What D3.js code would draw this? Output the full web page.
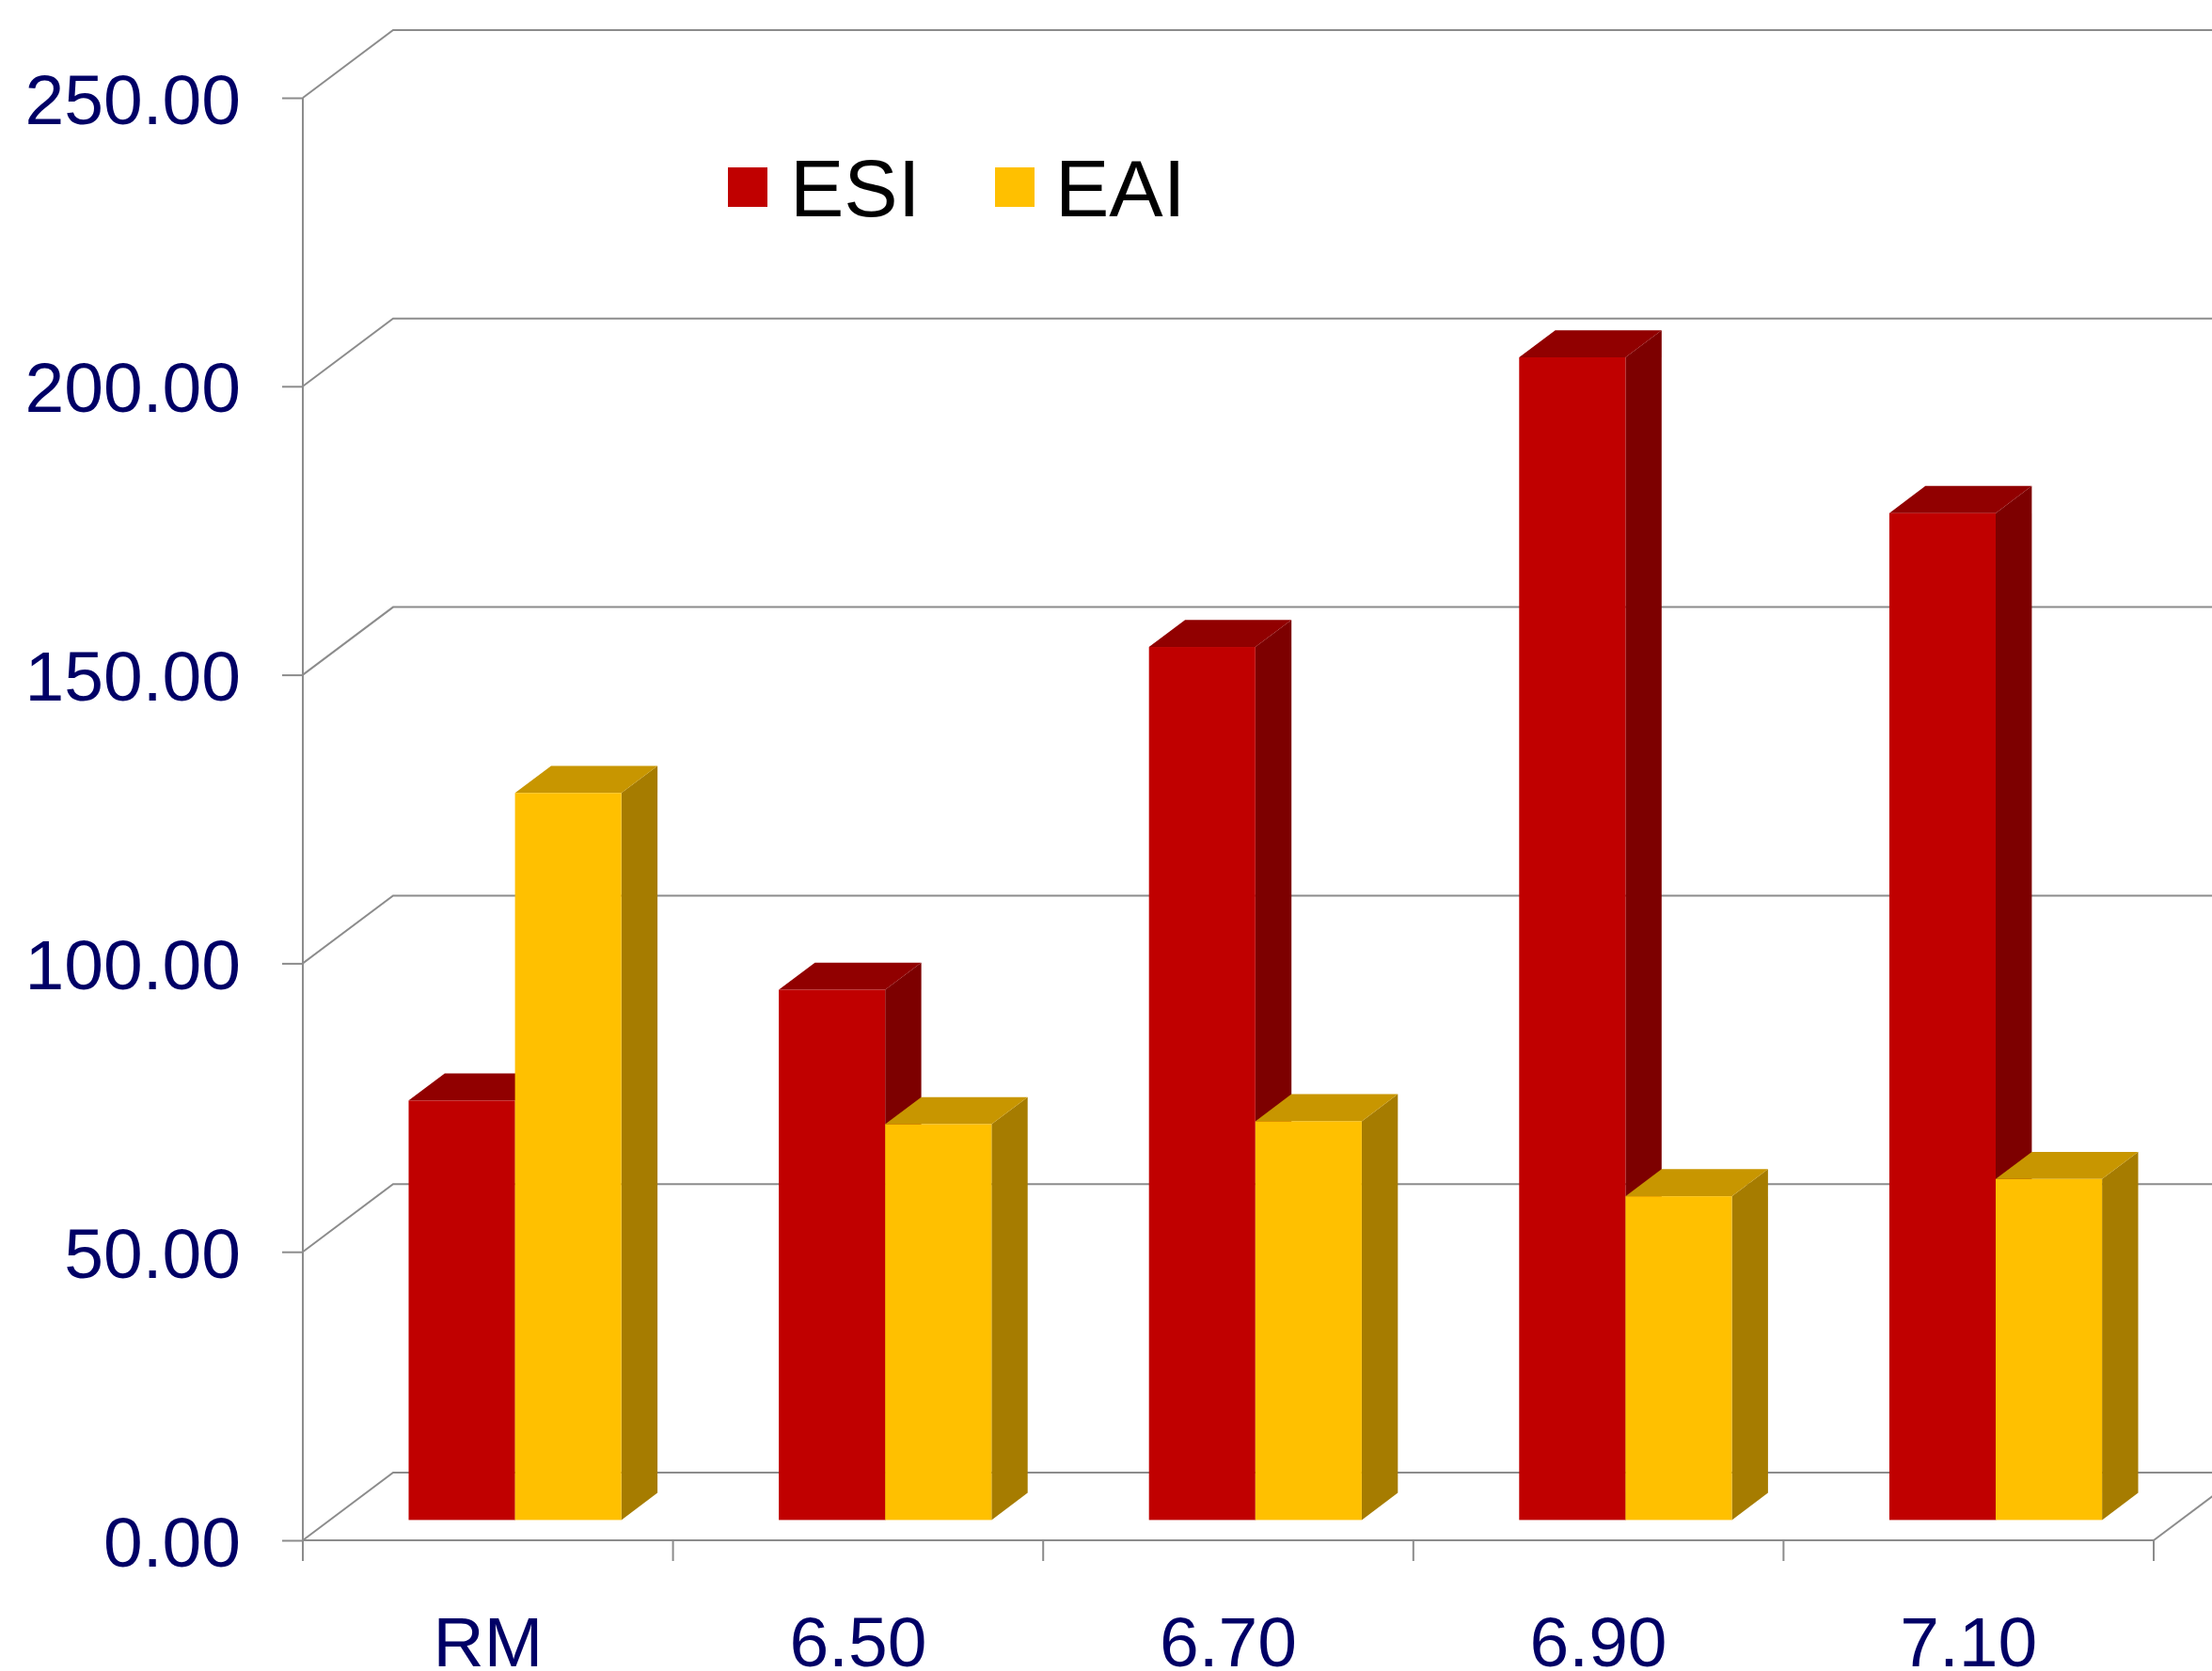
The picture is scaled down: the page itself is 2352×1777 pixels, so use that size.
<!DOCTYPE html>
<html>
<head>
<meta charset="utf-8">
<script src="https://cdn.jsdelivr.net/npm/d3@7"></script>
<style>
  html, body { margin: 0; padding: 0; background: #ffffff; }
  svg { display: block; }
  text { font-family: "Liberation Sans", Arial, sans-serif; }
</style>
</head>
<body>
<svg id="chart" width="2352" height="1777"></svg>
<script>
// Categories, series and values
const categories = ["RM", "6.50", "6.70", "6.90", "7.10"];
const seriesNames = ["ESI", "EAI"];
const esiValues = [72.7, 91.9, 151.3, 201.5, 174.5];
const eaiValues = [126.0, 68.6, 69.1, 56.1, 59.1];
const yTicks = [0, 50, 100, 150, 200, 250];

const W = 2352, H = 1777;
const svg = d3.select("#chart");

// Front plane of the 3-D box
const left = 322, right = 2290;
const y = d3.scaleLinear().domain([0, 250]).range([1638, 104]);
// Depth offset from the front plane to the back wall
const DX = 96, DY = 72;
const proj = (px, v, d) => [px + d * DX, y(v) - d * DY];

const x = d3.scaleBand().domain(categories).range([left, right]).padding(0);
const xs = d3.scaleBand().domain(seriesNames).range([0, x.bandwidth()])
  .paddingInner(0).paddingOuter(0.74);

const gridColor = "#8c8c8c";
const labelColor = "#000066";

// Back wall gridlines and left wall diagonals
const grid = svg.append("g").attr("stroke", gridColor).attr("stroke-width", 2).attr("fill", "none");
yTicks.forEach(v => {
  const a = proj(left, v, 0), b = proj(left, v, 1);
  grid.append("path").attr("d", `M${a[0]},${a[1]}L${b[0]},${b[1]}L${W + 10},${b[1]}`);
});
// Right edge of the floor
{
  const a = proj(right, 0, 0), b = proj(right, 0, 1.4);
  grid.append("path").attr("d", `M${a[0]},${a[1]}L${b[0]},${b[1]}`);
}

// Axes on the front plane
const yAxis = d3.axisLeft(y).tickValues(yTicks).tickSize(22).tickFormat(d3.format(".2f"));
const gy = svg.append("g").attr("transform", `translate(${left},0)`).call(yAxis);
gy.select(".domain").remove();
gy.selectAll(".tick line").attr("stroke", gridColor).attr("stroke-width", 2);
gy.selectAll(".tick text").attr("x", -66).attr("dy", "0.36em")
  .attr("fill", labelColor).style("font-size", "75px")
  .style("font-family", "'Liberation Sans', Arial, sans-serif");

svg.append("line").attr("x1", left).attr("x2", left)
  .attr("y1", y(250)).attr("y2", y(0) + 22)
  .attr("stroke", gridColor).attr("stroke-width", 2);
svg.append("line").attr("x1", left).attr("x2", right)
  .attr("y1", y(0)).attr("y2", y(0))
  .attr("stroke", gridColor).attr("stroke-width", 2);

// Category boundary ticks and labels
const boundaries = categories.map(c => x(c)).concat([right]);
svg.append("g").selectAll("line").data(boundaries).join("line")
  .attr("x1", d => d).attr("x2", d => d)
  .attr("y1", y(0)).attr("y2", y(0) + 22)
  .attr("stroke", gridColor).attr("stroke-width", 2);
svg.append("g").selectAll("text").data(categories).join("text")
  .attr("x", d => x(d) + x.bandwidth() / 2)
  .attr("y", 1772)
  .attr("text-anchor", "middle")
  .attr("fill", labelColor)
  .style("font-size", "75px")
  .text(d => d);

// 3-D columns
const palette = {
  ESI: { front: "#c00000", top: "#910000", side: "#7d0000" },
  EAI: { front: "#ffc000", top: "#c89600", side: "#a67c00" }
};
const d0 = 0.3, d1 = 0.7;
const rows = categories.map((c, i) => ({ cat: c, ESI: esiValues[i], EAI: eaiValues[i] }));
const bars = svg.append("g");
rows.forEach(r => {
  seriesNames.forEach(s => {
    const v = r[s];
    const xl = x(r.cat) + xs(s), xr = xl + xs.bandwidth();
    const col = palette[s];
    const fBL = proj(xl, 0, d0), fTR = proj(xr, v, d0);
    const fTL = proj(xl, v, d0), fBR = proj(xr, 0, d0);
    const bTL = proj(xl, v, d1), bTR = proj(xr, v, d1), bBR = proj(xr, 0, d1);
    const g = bars.append("g");
    g.append("polygon").attr("points", [fTR, bTR, bBR, fBR].map(p => p.join(",")).join(" "))
      .attr("fill", col.side);
    g.append("polygon").attr("points", [fTL, bTL, bTR, fTR].map(p => p.join(",")).join(" "))
      .attr("fill", col.top);
    g.append("rect").attr("x", fTL[0]).attr("y", fTL[1])
      .attr("width", fTR[0] - fTL[0]).attr("height", fBL[1] - fTL[1])
      .attr("fill", col.front);
  });
});

// Legend
const legend = svg.append("g");
const legendItems = [
  { name: "ESI", sx: 774, tx: 840 },
  { name: "EAI", sx: 1058, tx: 1122 }
];
legendItems.forEach(it => {
  legend.append("rect").attr("x", it.sx).attr("y", 178).attr("width", 42).attr("height", 42)
    .attr("fill", palette[it.name].front);
  legend.append("text").attr("x", it.tx).attr("y", 230)
    .attr("fill", "#000000").style("font-size", "86px").text(it.name);
});
</script>
</body>
</html>
